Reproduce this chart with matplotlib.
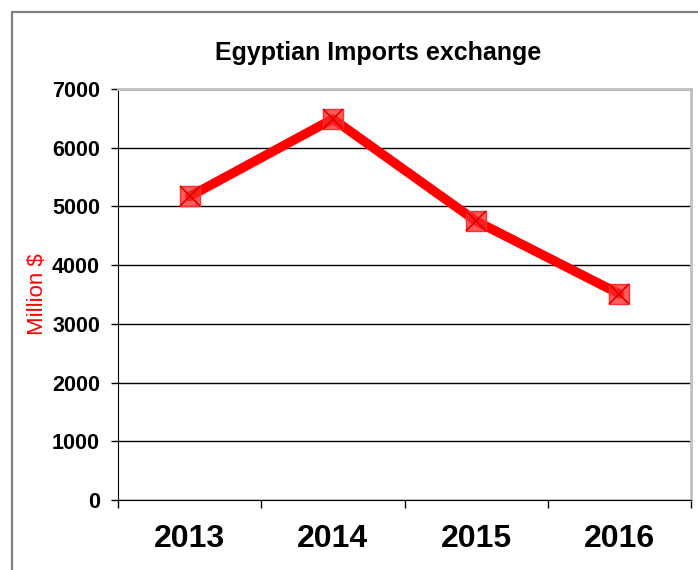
import matplotlib
matplotlib.use("Agg")
import matplotlib.pyplot as plt
from matplotlib.patches import Rectangle

plt.rcParams["font.family"] = ["Liberation Sans", "DejaVu Sans"]

years = ["2013", "2014", "2015", "2016"]
imports = [5170, 6490, 4750, 3510]
y_ticks = [0, 1000, 2000, 3000, 4000, 5000, 6000, 7000]

fig = plt.figure(figsize=(6.98, 5.70), dpi=100)
W, H = 698, 570

# outer chart frame (runs off the right and bottom edges)
fig.patches.append(Rectangle((12 / W, -0.1), 1.2, 1.1 - 12 / H, transform=fig.transFigure,
                             fill=False, edgecolor="#808080", linewidth=1.6))

ax = fig.add_axes([118 / W, 1 - 500 / H, (691 - 118) / W, (500 - 89) / H])
x = list(range(len(years)))

ax.set_xlim(-0.5, len(years) - 0.5)
ax.set_ylim(0, 7000)
ax.set_yticks(y_ticks)
ax.set_yticklabels([str(v) for v in y_ticks], fontsize=15.5, fontweight="bold")
ax.set_xticks(x)
ax.set_xticklabels(years, fontsize=23, fontweight="bold")
ax.set_xticks([i - 0.5 for i in range(len(years) + 1)], minor=True)
ax.tick_params(axis="x", which="major", length=0, pad=17)
ax.tick_params(axis="x", which="minor", length=6, width=1, direction="out")
ax.tick_params(axis="y", length=5, width=1, direction="out", pad=8)

ax.grid(axis="y", color="black", linewidth=1)
ax.set_axisbelow(True)

for side in ("top", "right"):
    ax.spines[side].set_color("#c0c0c0")
    ax.spines[side].set_linewidth(2)
ax.spines["left"].set_color("black")
ax.spines["bottom"].set_color("black")

ax.plot(x, imports, color="#ff0000", linewidth=6.8, zorder=3, solid_capstyle="round")
ax.plot(x, imports, linestyle="none", marker="s", markersize=15,
        markerfacecolor=(1, 0.15, 0.15, 0.75), markeredgecolor="#ff3030",
        markeredgewidth=1, zorder=4)
ax.plot(x, imports, linestyle="none", marker="x", markersize=14,
        markeredgecolor="#e00000", markeredgewidth=1.2, zorder=5)

ax.set_ylabel("Million $", color="red", fontsize=16)
ax.yaxis.set_label_coords(-0.122, 0.5)

fig.text(378 / W, 1 - 53 / H, "Egyptian Imports exchange", ha="center", va="center",
         fontsize=18, fontweight="bold")

fig.savefig("out.png", dpi=100)
